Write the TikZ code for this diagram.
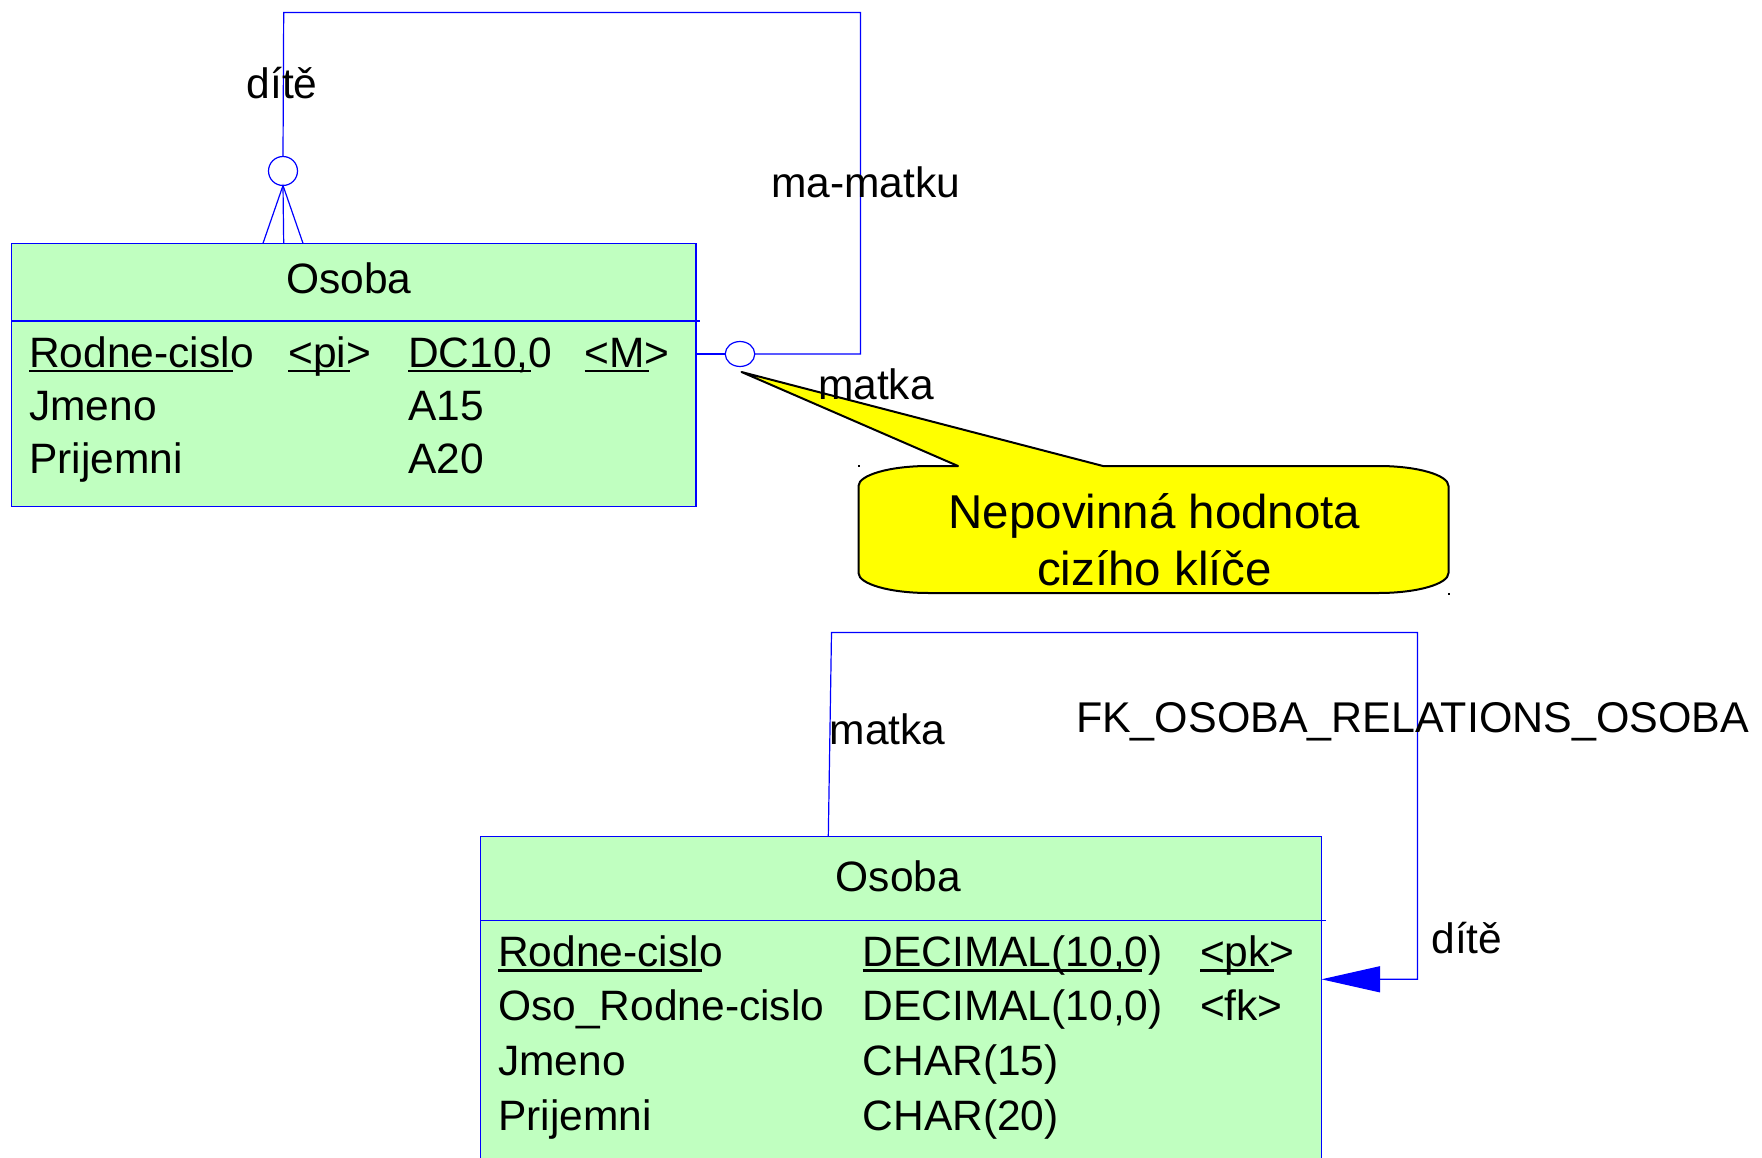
\documentclass[tikz,border=0pt]{standalone}
\usepackage{fontspec}
\setmainfont{Liberation Sans}
\usetikzlibrary{arrows.meta,shapes.geometric}
\definecolor{entgreen}{RGB}{192,255,192}
\definecolor{relblue}{RGB}{0,0,255}
\definecolor{notefill}{RGB}{255,255,0}

\begin{document}
\begin{tikzpicture}[x=1pt,y=-1pt,
  every node/.style={inner sep=0pt,outer sep=0pt},
  txt/.style={anchor=base west,font=\fontsize{42.5}{51}\selectfont},
  ttl/.style={anchor=base,font=\fontsize{42.5}{51}\selectfont},
  notetxt/.style={anchor=base,font=\fontsize{47.5}{55}\selectfont},
  entity/.style={rectangle,draw=relblue,fill=entgreen,line width=1.2pt},
  rel/.style={draw=relblue,line width=1.2pt},
  optmark/.style={draw=relblue,fill=white,line width=1.2pt},
  ulbar/.style={draw=black,line width=2.2pt},
  dotmark/.style={fill=black}]

% page frame
\clip (0,0) rectangle (1762,1158);
\fill[white] (0,0) rectangle (1762,1158);

% ---------- conceptual model (top) ----------
\node[entity,minimum width=684.5pt,minimum height=263.5pt] (e1) at (353.75,375.05) {};
\coordinate (s1a) at (11.5,321);
\coordinate (s1b) at (700,321);
\draw[rel] (s1a) -- (s1b);

\node[ttl] (e1t) at (349,293.3) {Osoba};
\node[txt] (a11) at (29.3,367.5) {Rodne-cislo};
\node[txt] (a12) at (288.3,367.5) {<pi>};
\node[txt] (a13) at (408.3,367.5) {DC10,0};
\node[txt] (a14) at (584.5,367.5) {<M>};
\node[txt] (a21) at (29.3,420.8) {Jmeno};
\node[txt] (a23) at (408.3,420.8) {A15};
\node[txt] (a31) at (29.3,473.5) {Prijemni};
\node[txt] (a33) at (408.3,473.5) {A20};
\foreach \n in {a11,a12,a13,a14}
  \draw[ulbar] ([yshift=-3.8pt]\n.base west) -- ([xshift=-21pt,yshift=-3.8pt]\n.base east);

% self relationship ma-matku
\node[circle,optmark,minimum size=29pt] (o1) at (283,171) {};
\node[ellipse,optmark,minimum width=29.5pt,minimum height=25pt] (o2) at (740,354) {};
\coordinate (k1) at (283.7,12.5);
\coordinate (k2) at (860.5,12.5);
\coordinate (k3) at (860.5,354);
\draw[rel] (o1.north) -- (k1) -- (k2) -- (k3) -- (o2.east);
\draw[rel] (o2.west) -- (o2.west -| e1.east);
% crow's foot
\coordinate (f1) at (263,243.3);
\coordinate (f2) at (283.7,243.3);
\coordinate (f3) at (303,243.3);
\draw[rel] (f1) -- (o1.south) -- (f3);
\draw[rel] (o1.south) -- (f2);

\node[txt] (l1) at (246.6,98.5) {dítě};
\node[txt] (l2) at (771,197.7) {ma-matku};

% ---------- note callout ----------
\filldraw[fill=notefill,draw=black,line width=2pt,line join=round]
  (958,466) -- (741.5,372) -- (1103,466) -- (1378.5,466)
  .. controls (1417.2,466) and (1448.5,475) .. (1448.5,486)
  -- (1448.5,573)
  .. controls (1448.5,584) and (1417.2,593) .. (1378.5,593)
  -- (928.5,593)
  .. controls (889.8,593) and (858.5,584) .. (858.5,573)
  -- (858.5,486)
  .. controls (858.5,475) and (889.8,466) .. (928.5,466) -- cycle;
\fill[dotmark] (857.5,464.7) rectangle (859.5,466.7);
\fill[dotmark] (1447.5,592.5) rectangle (1449.5,594.5);
\node[notetxt] (n1) at (1154.5,528.5) {Nepovinná hodnota};
\node[notetxt] (n2) at (1154.5,585) {cizího klíče};

\node[txt] (l3) at (818,399) {matka};

% ---------- physical model (bottom) ----------
\node[entity,minimum width=840.8pt,minimum height=400pt] (e2) at (901.1,1036.7) {};
\coordinate (s2a) at (480.7,920.5);
\coordinate (s2b) at (1326,920.5);
\draw[rel] (s2a) -- (s2b);

\node[ttl] (e2t) at (898.4,891.7) {Osoba};
\node[txt] (b11) at (498.3,966.7) {Rodne-cislo};
\node[txt] (b12) at (862.7,966.7) {DECIMAL(10,0)};
\node[txt] (b13) at (1200.1,966.7) {<pk>};
\node[txt] (b21) at (498.3,1020.7) {Oso\_Rodne-cislo};
\node[txt] (b22) at (862.7,1020.7) {DECIMAL(10,0)};
\node[txt] (b23) at (1200.1,1020.7) {<fk>};
\node[txt] (b31) at (498.3,1075.7) {Jmeno};
\node[txt] (b32) at (862.7,1075.7) {CHAR(15)};
\node[txt] (b41) at (498.3,1130) {Prijemni};
\node[txt] (b42) at (862.7,1130) {CHAR(20)};
\foreach \n in {b11,b12,b13}
  \draw[ulbar] ([yshift=-3.8pt]\n.base west) -- ([xshift=-21pt,yshift=-3.8pt]\n.base east);

% foreign key FK_OSOBA_RELATIONS_OSOBA
\coordinate (m1) at (828.3,836.7);
\coordinate (m2) at (831.5,632.5);
\coordinate (m3) at (1417.5,632.5);
\coordinate (m4) at (1417.5,979.3);
\draw[rel,-{Triangle[length=58.5pt,width=26pt]}] (m1) -- (m2) -- (m3) -- (m4) -- (m4 -| e2.east);

\node[txt] (l4) at (829.6,744) {matka};
\node[txt,font=\fontsize{43}{51}\selectfont] (l5) at (1076,732.5) {FK\_OSOBA\_RELATIONS\_OSOBA};
\node[txt] (l6) at (1431.5,953) {dítě};
\end{tikzpicture}
\end{document}
